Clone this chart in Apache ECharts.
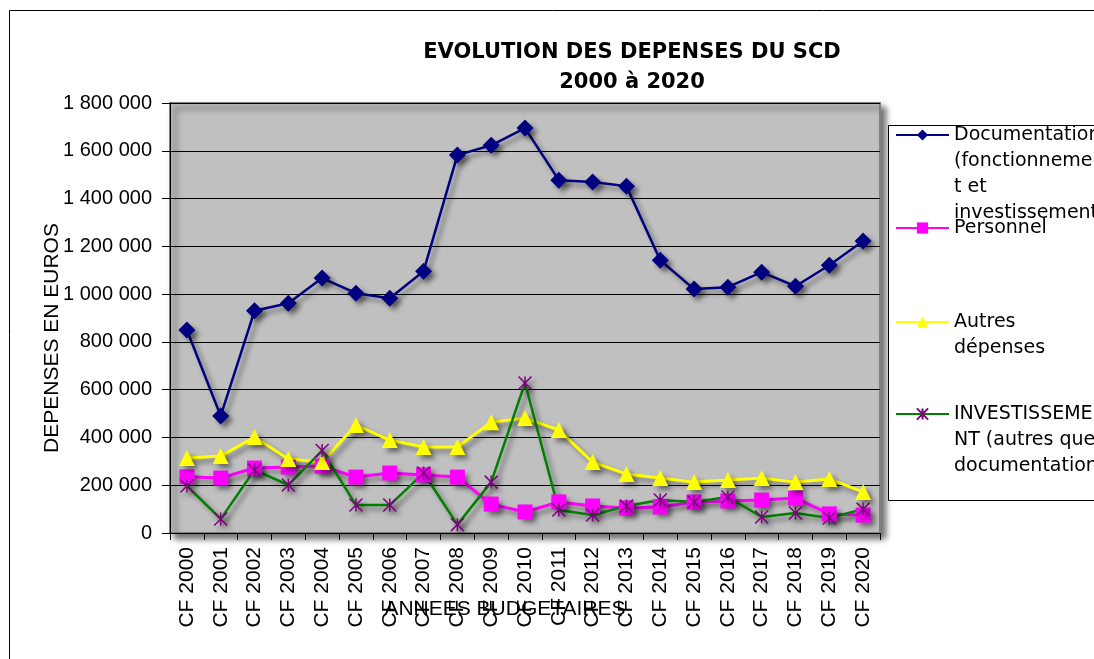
<!DOCTYPE html>
<html>
<head>
<meta charset="utf-8">
<title>Evolution des dépenses du SCD</title>
<script src="https://cdn.jsdelivr.net/npm/echarts@6.0.0/dist/echarts.min.js"></script>
<style>
    html, body { margin: 0; padding: 0; background: #fff; }
    #tu1 { width: 1094px; height: 659px; }
</style>
</head>
<body>
<div id="tu1"></div>
<script>
    // donnees
    var annees = ['CF 2000', 'CF 2001', 'CF 2002', 'CF 2003', 'CF 2004', 'CF 2005', 'CF 2006',
        'CF 2007', 'CF 2008', 'CF 2009', 'CF 2010', 'CF 2011', 'CF 2012', 'CF 2013',
        'CF 2014', 'CF 2015', 'CF 2016', 'CF 2017', 'CF 2018', 'CF 2019', 'CF 2020'];

    var documentation = [850000, 490000, 930000, 962000, 1067000, 1004000, 983000, 1096000, 1582000, 1623000, 1695000,
        1477000, 1469000, 1452000, 1142000, 1021000, 1029000, 1092000, 1033000, 1121000, 1222000];
    var personnel = [235000, 230000, 272000, 276000, 280000, 234000, 251000, 243000, 234000, 121000, 88000,
        130000, 113000, 105000, 109000, 130000, 134000, 138000, 146000, 80000, 75000];
    var autres = [314000, 322000, 402000, 310000, 297000, 452000, 389000, 360000, 360000, 464000, 481000,
        431000, 297000, 247000, 230000, 213000, 222000, 230000, 213000, 226000, 172000];
    var investissement = [197000, 59000, 264000, 201000, 345000, 117000, 117000, 251000, 35000, 213000, 628000,
        96000, 75000, 113000, 138000, 130000, 151000, 67000, 84000, 63000, 100000];

    var noms = ['Documentation (fonctionnement et investissement)', 'Personnel', 'Autres dépenses',
        'INVESTISSEMENT (autres que documentation)'];
    // coupures de lignes comme dans la legende d'origine
    var legendeTextes = ['Documentation\n(fonctionnemen\nt et\ninvestissement)', 'Personnel',
        'Autres\ndépenses', 'INVESTISSEME\nNT (autres que\ndocumentation)'];
    var legendeY = [135, 228, 322, 414];

    var yTicks = { min: 0, max: 1800000, interval: 200000 };

    var ombre = {
        shadowColor: 'rgba(0,0,0,0.45)',
        shadowBlur: 5,
        shadowOffsetX: 4,
        shadowOffsetY: 4
    };

    function espaceMilliers(v) {
        return String(v).replace(/\B(?=(\d{3})+(?!\d))/g, ' ');
    }

    // le texte est centre sur le symbole : on ajoute des lignes vides au dessus
    // pour que la premiere ligne tombe au niveau du symbole
    function texteLegende(t) {
        var n = t.split('\n').length;
        return new Array(n).join('\n') + t;
    }

    var lh = 26;
    var legendes = [];
    for (var i = 0; i < noms.length; i++) {
        var n = legendeTextes[i].split('\n').length;
        legendes.push({
            left: 895,
            top: legendeY[i] - (2 * n - 1) * lh / 2,
            orient: 'vertical',
            padding: 0,
            itemWidth: 53,
            itemHeight: 14,
            selectedMode: false,
            data: [noms[i]],
            formatter: (function (t) { return function () { return t; }; })(texteLegende(legendeTextes[i])),
            textStyle: {
                fontFamily: 'DejaVu Sans',
                fontSize: 19,
                lineHeight: lh,
                color: '#000'
            },
            lineStyle: { shadowBlur: 0, shadowOffsetX: 0, shadowOffsetY: 0, shadowColor: 'transparent' },
            itemStyle: { shadowBlur: 0, shadowOffsetX: 0, shadowOffsetY: 0, shadowColor: 'transparent' }
        });
    }

    var myChart1 = echarts.init(document.getElementById('tu1'));

    var option1 = {
        animation: false,
        title: {
            text: 'EVOLUTION DES DEPENSES DU SCD\n2000 à 2020',
            left: 632,
            top: 38,
            padding: 0,
            textAlign: 'center',
            textStyle: {
                fontFamily: 'DejaVu Sans',
                fontWeight: 'bold',
                fontSize: 21,
                lineHeight: 30,
                color: '#000'
            }
        },
        graphic: [
            {
                type: 'rect',
                z: -10,
                shape: { x: 9.5, y: 10.5, width: 1200, height: 800 },
                style: { fill: '#fff', stroke: '#000', lineWidth: 1 }
            },
            {
                type: 'rect',
                z: 0,
                shape: { x: 888.5, y: 125.5, width: 300, height: 375 },
                style: { fill: '#fff', stroke: '#000', lineWidth: 1 }
            }
        ],
        legend: legendes,
        grid: {
            left: 170,
            right: 214,
            top: 103,
            bottom: 126,
            show: true,
            backgroundColor: '#c0c0c0',
            borderColor: '#808080',
            borderWidth: 2,
            shadowColor: 'rgba(0,0,0,0.55)',
            shadowBlur: 6,
            shadowOffsetX: 5,
            shadowOffsetY: 5
        },
        xAxis: {
            type: 'category',
            data: annees,
            boundaryGap: true,
            name: 'ANNEES BUDGETAIRES',
            nameLocation: 'middle',
            nameGap: 66,
            nameMoveOverlap: false,
            nameTextStyle: {
                fontFamily: 'Liberation Sans',
                fontSize: 21,
                color: '#000',
                padding: [0, 40, 0, 0]
            },
            axisLine: { lineStyle: { color: '#000', width: 1 } },
            axisTick: { show: true, length: 7, lineStyle: { color: '#000' } },
            axisLabel: {
                rotate: 90,
                margin: 14,
                interval: 0,
                fontFamily: 'Liberation Sans',
                fontSize: 21,
                color: '#000'
            },
            splitLine: { show: false }
        },
        yAxis: {
            type: 'value',
            min: yTicks.min,
            max: yTicks.max,
            interval: yTicks.interval,
            name: 'DEPENSES EN EUROS',
            nameLocation: 'middle',
            nameGap: 107,
            nameMoveOverlap: false,
            nameTextStyle: {
                fontFamily: 'Liberation Sans',
                fontSize: 21,
                color: '#000',
                padding: [0, 40, 0, 0]
            },
            axisLine: { show: true, lineStyle: { color: '#000', width: 1 } },
            axisTick: { show: true, length: 8, lineStyle: { color: '#000' } },
            axisLabel: {
                margin: 18,
                fontFamily: 'Liberation Sans',
                fontSize: 20,
                color: '#000',
                formatter: espaceMilliers
            },
            splitLine: { lineStyle: { color: '#000', width: 1 } }
        },
        series: [
            {
                name: noms[0],
                type: 'line',
                data: documentation,
                symbol: 'diamond',
                symbolSize: 17,
                itemStyle: Object.assign({ color: '#000080' }, ombre),
                lineStyle: Object.assign({ color: '#000080', width: 2.5 }, ombre)
            },
            {
                name: noms[1],
                type: 'line',
                data: personnel,
                symbol: 'rect',
                symbolSize: 15,
                itemStyle: Object.assign({ color: '#ff00ff' }, ombre),
                lineStyle: Object.assign({ color: '#ff00ff', width: 3 }, ombre)
            },
            {
                name: noms[2],
                type: 'line',
                data: autres,
                symbol: 'triangle',
                symbolSize: 16,
                itemStyle: Object.assign({ color: '#ffff00' }, ombre),
                lineStyle: Object.assign({ color: '#ffff00', width: 3 }, ombre)
            },
            {
                name: noms[3],
                type: 'line',
                data: investissement,
                symbol: 'path://M0,0L10,10M10,0L0,10M5,0L5,10',
                symbolSize: 13,
                itemStyle: Object.assign({ color: 'rgba(0,0,0,0)', borderColor: '#800080', borderWidth: 1.5 }, ombre),
                lineStyle: Object.assign({ color: '#008000', width: 2.5 }, ombre)
            }
        ]
    };
    myChart1.setOption(option1);
</script>
</body>
</html>
